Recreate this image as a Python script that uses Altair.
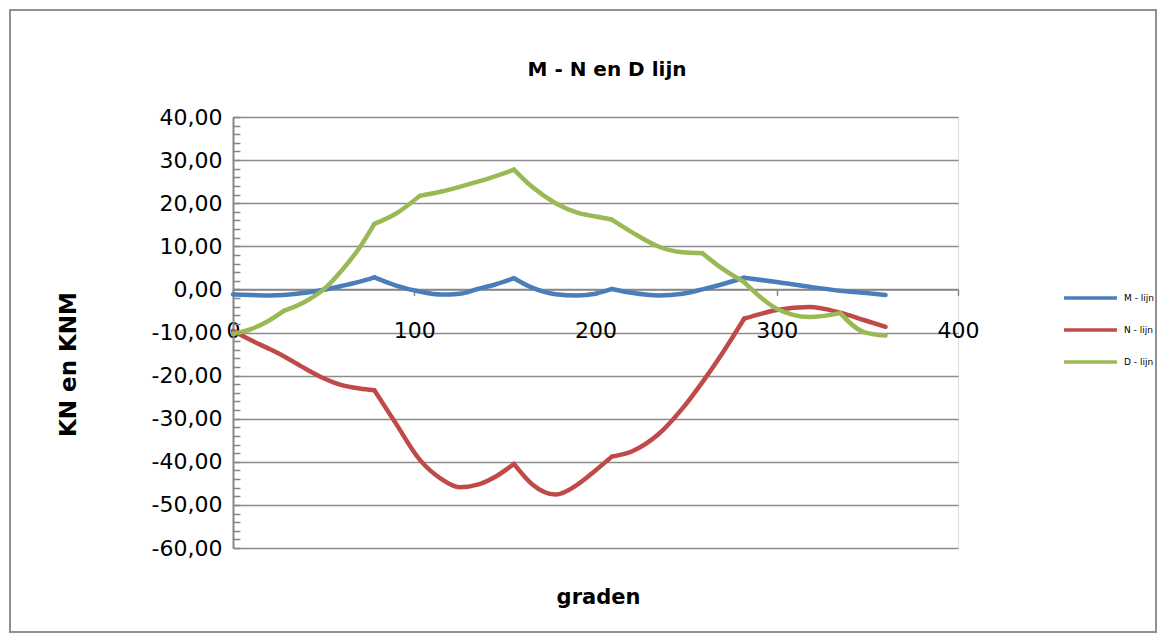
import altair as alt
import pandas as pd

# ---- data ----
graden = [0, 10, 20, 28, 40, 50, 60, 70, 78, 90, 103, 115, 125, 135, 145, 155,
          165, 178, 190, 200, 209, 220, 235, 248, 259, 270, 282, 300, 318, 335, 348, 360]
m_lijn = [-1.2, -1.3, -1.4, -1.3, -0.8, -0.1, 0.8, 1.8, 2.8, 0.9, -0.5, -1.2, -1.0, 0.1, 1.2, 2.6,
          0.4, -1.1, -1.4, -1.0, 0.1, -0.8, -1.4, -1.0, 0.0, 1.2, 2.7, 1.7, 0.6, -0.3, -0.8, -1.3]
n_lijn = [-9.6, -11.8, -13.8, -15.5, -18.4, -20.6, -22.2, -23.0, -23.4, -31.2, -39.5, -44.0, -45.9, -45.3, -43.4, -40.5,
          -45.2, -47.6, -45.3, -42.0, -38.8, -37.6, -33.5, -27.6, -21.5, -14.8, -6.8, -4.8, -4.1, -5.4, -7.1, -8.7]
d_lijn = [-10.3, -9.2, -7.2, -5.0, -2.8, 0.0, 4.4, 9.8, 15.2, 17.6, 21.7, 22.7, 23.8, 25.0, 26.3, 27.8,
          23.8, 20.0, 17.8, 16.9, 16.2, 13.3, 9.9, 8.6, 8.4, 4.8, 1.7, -4.5, -6.4, -5.5, -9.9, -10.7]

# angles where a line has a kink (the curve is smoothed between them)
m_kinks = [78, 155, 209, 282]
n_kinks = [78, 155, 209, 282]
d_kinks = [28, 78, 103, 155, 209, 259, 282, 335]

series_names = ["M - lijn", "N - lijn", "D - lijn"]
series_colors = ["#4A7EBB", "#BE4B48", "#98B954"]
y_ticks = list(range(-60, 41, 10))
y_minor = list(range(-60, 41, 2))
x_ticks = [0, 100, 200, 300, 400]
title_text = "M - N en D lijn"

rows = []
for name, vals, kinks in zip(series_names, [m_lijn, n_lijn, d_lijn], [m_kinks, n_kinks, d_kinks]):
    bps = [graden[0]] + kinks + [graden[-1]]
    for s in range(len(bps) - 1):
        for g, v in zip(graden, vals):
            if bps[s] <= g <= bps[s + 1]:
                rows.append({"graden": g, "waarde": v, "serie": name, "seg": f"{name}|{s:02d}"})
df = pd.DataFrame(rows)

W, H = 725, 431
FONT = "DejaVu Sans"
GRID = "#8c8c8c"
AXIS = "#868686"

label_expr = "(datum.value < 0 ? '-' : '') + replace(format(abs(datum.value), '.2f'), '.', ',')"

x_scale = alt.Scale(domain=[0, 400], nice=False, zero=False)
y_scale = alt.Scale(domain=[-60, 40], nice=False, zero=False)

x_enc = alt.X(
    "graden:Q", scale=x_scale,
    axis=alt.Axis(values=x_ticks, offset=-(H * 0.6), grid=False,
                  domainColor=AXIS, domainWidth=1.5, tickColor=AXIS, tickWidth=1.5, tickSize=6,
                  labelFont=FONT, labelFontSize=22, labelColor="black", labelPadding=25,
                  labelFlush=False, labelOverlap=False,
                  title="graden", titleFont=FONT, titleFontSize=21, titleFontWeight="bold",
                  titleColor="black", titleX=365, titleY=308, titleBaseline="middle", titleAlign="center"),
)

lines = alt.Chart(df).mark_line(
    strokeWidth=4.5, interpolate="monotone", strokeCap="round", strokeJoin="round"
).encode(
    x=x_enc,
    y=alt.Y(
        "waarde:Q", scale=y_scale,
        axis=alt.Axis(values=y_ticks, grid=True, gridColor=GRID, gridWidth=1.3,
                      domainColor=AXIS, domainWidth=2, ticks=False, tickSize=0,
                      labelExpr=label_expr, labelFont=FONT, labelFontSize=22, labelColor="black",
                      labelPadding=11, labelFlush=False, labelOverlap=False,
                      title="KN en KNM", titleFont=FONT, titleFontSize=23, titleFontWeight="bold",
                      titleColor="black", titleX=-165, titleY=247, titleAngle=270,
                      titleBaseline="middle", titleAlign="center"),
    ),
    color=alt.Color(
        "serie:N", sort=series_names,
        scale=alt.Scale(domain=series_names, range=series_colors),
        legend=alt.Legend(orient="none", legendX=829, legendY=175, title=None,
                          symbolType="stroke", symbolSize=2800, symbolStrokeWidth=3.5,
                          clipHeight=12, rowPadding=20, padding=0,
                          labelFont=FONT, labelFontSize=9, labelColor="black", labelOffset=5),
    ),
    detail="seg:N",
)

minor = alt.Chart(df).mark_point(opacity=0).encode(
    x=x_enc,
    y=alt.Y(
        "waarde:Q", scale=y_scale,
        axis=alt.Axis(orient="right", offset=-W, values=y_minor, labels=False, domain=False,
                      grid=False, ticks=True, tickSize=7, tickColor=AXIS, tickWidth=1.5, title=""),
    ),
)

border = alt.Chart(alt.Data(values=[{"k": 1}])).mark_rect(
    fill="white", fillOpacity=0, stroke="#8f8f8f", strokeWidth=2
).encode(
    x=alt.value(-223), x2=alt.value(923), y=alt.value(-107), y2=alt.value(515)
)

title = alt.Chart(alt.Data(values=[{"t": title_text}])).mark_text(
    font=FONT, fontSize=20, fontWeight="bold", color="black", align="center", baseline="middle"
).encode(
    text="t:N", x=alt.value(374), y=alt.value(-47)
)

chart = alt.layer(border, title, lines, minor).resolve_axis(y="independent").properties(
    width=W, height=H,
    autosize=alt.AutoSizeParams(type="none"),
    padding={"left": 225, "top": 109, "right": 200, "bottom": 86},
).configure_view(stroke=None).configure(background="white")

chart.save("out.html", embed_options={"renderer": "svg", "actions": False})
